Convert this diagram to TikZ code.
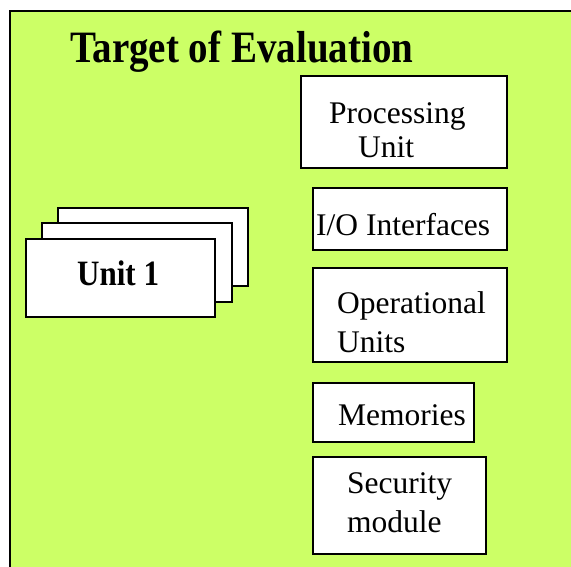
\documentclass[tikz,border=0pt]{standalone}
\usepackage{fontspec}
\setmainfont{Liberation Serif}
\definecolor{toegreen}{HTML}{CCFF66}
\begin{document}
\begin{tikzpicture}[x=1pt,y=-1pt,
  box/.style={draw=black,line width=1.8pt,fill=white,inner sep=0pt,outer sep=0pt,rectangle},
  lbl/.style={anchor=base west,inner sep=0pt,font=\fontsize{31.5}{34}\selectfont},
  blbl/.style={anchor=base west,inner sep=0pt,font=\fontsize{31}{34}\selectfont\bfseries}]
\useasboundingbox (0,0) rectangle (571,566);
\fill[white] (0,0) rectangle (571,566);
\begin{scope}
\clip (0,0) rectangle (571,566);
\draw[fill=toegreen,line width=2pt] (10,11) rectangle (590,590);
\end{scope}
\node[anchor=base west,inner sep=0pt,font=\fontsize{39}{44}\selectfont\bfseries] (title) at (70,62) {\scalebox{1}[1.15]{Target of Evaluation}};
% stacked units
\draw[box] (58,208) rectangle (248,286);
\draw[box] (42,223) rectangle (232,302);
\draw[box] (26,239) rectangle (215,317);
\node[blbl] (u1) at (77,285) {\scalebox{1}[1.15]{Unit 1}};
% right column
\draw[box] (301,76) rectangle (507,168);
\node[lbl] (pu1) at (329,123) {Processing};
\node[lbl] (pu2) at (358,157) {Unit};
\draw[box] (313,188) rectangle (507,250);
\node[lbl] (io) at (316,235) {I/O Interfaces};
\draw[box] (313,268) rectangle (507,362);
\node[lbl] (op1) at (337,313) {Operational};
\node[lbl] (op2) at (337,352) {Units};
\draw[box] (313,383) rectangle (474,442);
\node[lbl] (mem) at (338,425) {Memories};
\draw[box] (313,457) rectangle (486,554);
\node[lbl] (sec1) at (347,493) {Security};
\node[lbl] (sec2) at (347,532) {module};
\end{tikzpicture}
\end{document}
